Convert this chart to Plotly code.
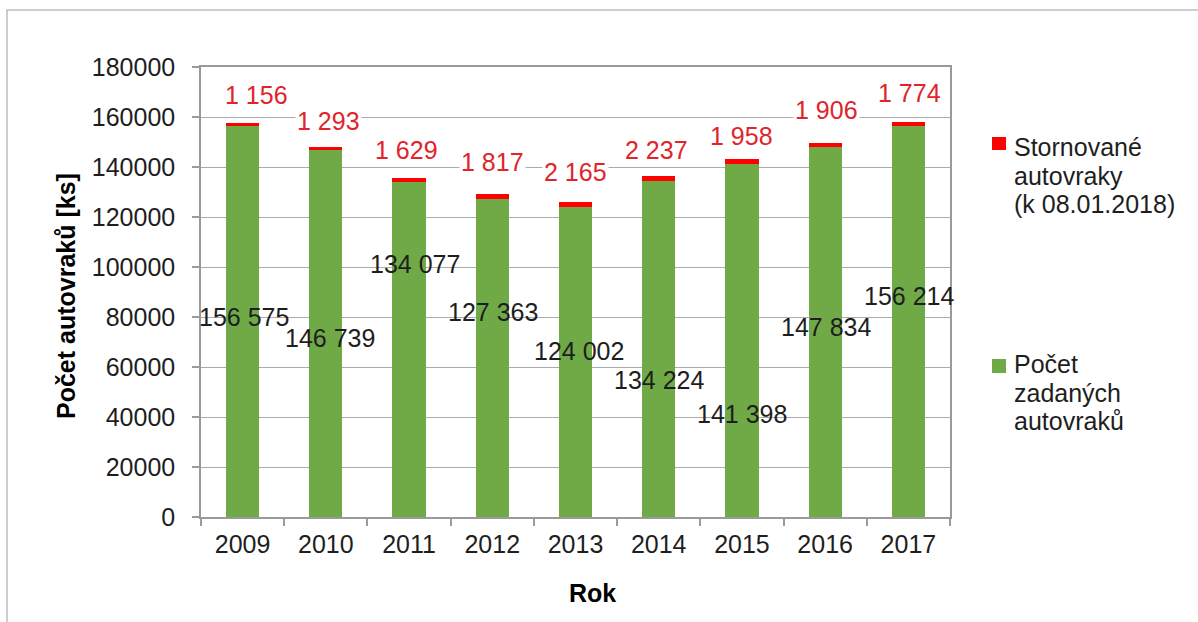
import plotly.graph_objects as go

# ---------------- data ----------------
years = ["2009", "2010", "2011", "2012", "2013", "2014", "2015", "2016", "2017"]
zadane = [156575, 146739, 134077, 127363, 124002, 134224, 141398, 147834, 156214]
storno = [1156, 1293, 1629, 1817, 2165, 2237, 1958, 1906, 1774]
y_ticks = [0, 20000, 40000, 60000, 80000, 100000, 120000, 140000, 160000, 180000]

legend_storno = ["Stornované", "autovraky", "(k 08.01.2018)"]
legend_zadane = ["Počet", "zadaných", "autovraků"]

# ---------------- style ----------------
FONT = "Liberation Sans, Arial, sans-serif"
GREEN = "#70AA46"
RED = "#FF0000"
RED_TXT = "#E0242A"
TXT = "#1E1E1E"
GRID = "#ABABAB"
AXIS = "#9A9A9A"
FS = 25

W, H = 1198, 622
L, R, T, B = 201, 248, 67, 105
PW, PH = W - L - R, H - T - B


def px(xp):
    return (xp - L) / PW


def py(yp):
    return (H - B - yp) / PH


# manual label offsets (pixels) as in the original
green_dx = [1, 4, 6, 1, 3, 0, 0, 1, 1]
green_dy = [4, -4, 85, 46, 11, -31, -74, 5, 26]
red_dx = [14, 3, -3, 0, 0, -2, 0, 1, 1]
red_dy = [28, 26, 28, 32, 30, 26, 23, 33, 29]


def fmt(v):
    return f"{v:,}".replace(",", " ")


fig = go.Figure()
fig.add_trace(go.Bar(x=years, y=zadane, name="Počet zadaných autovraků",
                     marker=dict(color=GREEN, line=dict(width=0)), width=0.4))
fig.add_trace(go.Bar(x=years, y=storno, name="Stornované autovraky (k 08.01.2018)",
                     marker=dict(color=RED, line=dict(width=0)), width=0.4))

annotations = []
for i, yr in enumerate(years):
    # category axes take the category index for annotations
    annotations.append(dict(x=i, y=zadane[i] / 2, xref="x", yref="y", text=fmt(zadane[i]),
                            showarrow=False, xshift=green_dx[i], yshift=green_dy[i],
                            font=dict(family=FONT, size=FS, color=TXT)))
    annotations.append(dict(x=i, y=zadane[i] + storno[i], xref="x", yref="y", text=fmt(storno[i]),
                            showarrow=False, xshift=red_dx[i], yshift=red_dy[i],
                            bgcolor="white", borderpad=1,
                            font=dict(family=FONT, size=FS, color=RED_TXT)))

# axis titles
annotations.append(dict(x=px(66), y=py(296), xref="paper", yref="paper", text="<b>Počet autovraků [ks]</b>",
                        textangle=-90, showarrow=False, xanchor="center", yanchor="middle",
                        font=dict(family=FONT, size=FS, color="#000000")))
annotations.append(dict(x=px(592), y=py(593), xref="paper", yref="paper", text="<b>Rok</b>",
                        showarrow=False, xanchor="center", yanchor="middle",
                        font=dict(family=FONT, size=FS, color="#000000")))

# legend (manual, to match line spacing)
leg_lines = [(legend_storno, [147, 175.5, 204]), (legend_zadane, [364, 392.5, 421])]
for lines, ys in leg_lines:
    for t, yy in zip(lines, ys):
        annotations.append(dict(x=px(1012), y=py(yy), xref="paper", yref="paper", text=t,
                                showarrow=False, xanchor="left", yanchor="middle",
                                font=dict(family=FONT, size=FS, color=TXT)))

shapes = [
    # outer frame
    dict(type="rect", xref="paper", yref="paper", x0=px(7), x1=px(1210), y0=py(630), y1=py(10),
         line=dict(color="#BDBDBD", width=1.5), fillcolor="rgba(0,0,0,0)", layer="below"),
    # legend keys
    dict(type="rect", xref="paper", yref="paper", x0=px(992), x1=px(1006), y0=py(150), y1=py(137),
         line=dict(width=0), fillcolor=RED),
    dict(type="rect", xref="paper", yref="paper", x0=px(992), x1=px(1006), y0=py(373), y1=py(359),
         line=dict(width=0), fillcolor=GREEN),
]

fig.update_layout(
    width=W, height=H,
    margin=dict(l=L, r=R, t=T, b=B, pad=0),
    paper_bgcolor="white", plot_bgcolor="white",
    barmode="stack",
    showlegend=False,
    font=dict(family=FONT, size=FS, color=TXT),
    annotations=annotations,
    shapes=shapes,
    xaxis=dict(type="category", categoryorder="array", categoryarray=years,
               range=[-0.5, len(years) - 0.5],
               showline=True, linecolor=AXIS, linewidth=1.5, mirror=True,
               ticks="outside", tickson="boundaries", ticklen=7, tickcolor=AXIS, tickwidth=1.5,
               tickangle=0,
               showgrid=False, tickfont=dict(family=FONT, size=FS, color=TXT),
               ticklabelstandoff=4, automargin=False, fixedrange=True),
    yaxis=dict(range=[0, 180000], tickvals=y_ticks, ticktext=[str(v) for v in y_ticks],
               showline=True, linecolor=AXIS, linewidth=1.5, mirror=True,
               ticks="outside", ticklen=7, tickcolor=AXIS, tickwidth=1.5,
               showgrid=True, gridcolor=GRID, gridwidth=1.3, zeroline=False,
               tickfont=dict(family=FONT, size=FS, color=TXT),
               ticklabelstandoff=12, automargin=False, fixedrange=True),
)

fig.write_html("out.html")
